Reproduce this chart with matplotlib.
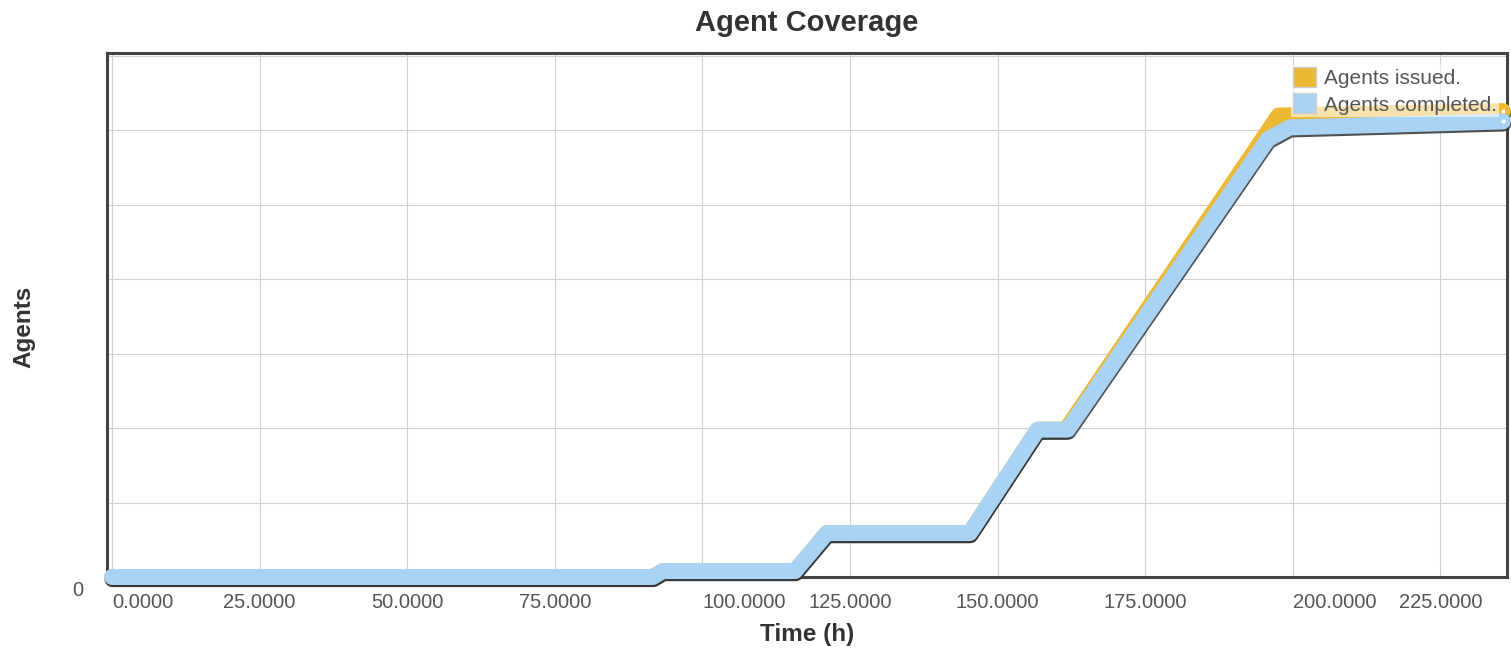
import numpy as np
import matplotlib
matplotlib.use('Agg')
import matplotlib.pyplot as plt
import matplotlib.patheffects as pe
import matplotlib.transforms as mtrans
from matplotlib.patches import Patch

plt.rcParams['font.family'] = ['Liberation Sans', 'DejaVu Sans']

# time (h) and agent counts
t_issued = [0, 91.6, 93.3, 115.7, 121.1, 145.3, 156.8, 161.6, 197.6, 235.6]
n_issued = [0, 0, 4, 4, 29.5, 29.5, 99, 99, 310, 313]
t_completed = [0, 91.6, 93.3, 115.7, 121.1, 145.3, 156.8, 161.9, 195.8, 199.5, 235.6]
n_completed = [0, 0, 4, 4, 29.5, 29.5, 99, 99, 294, 302, 306]

series_labels = ['Agents issued.', 'Agents completed.']
series_colors = ['#ecb935', '#a8d3f4']

xticks = np.arange(0, 226, 25)
xtick_labels = ['%.4f' % v for v in xticks]
yticks = np.arange(0, 351, 50)

###################################################
# Figure
###################################################
fig = plt.figure(figsize=(15.11, 6.49), dpi=100)
ax = fig.add_axes([107 / 1511, 1 - 577 / 649, 1400 / 1511, 524 / 649])

ax.set_xlim(-0.85, 236.3)
ax.set_ylim(0, 352)

shadow = [pe.SimpleLineShadow(offset=(0.4, -1.5), shadow_color='#333333', alpha=0.85),
          pe.Normal()]

for t, n, c, z in [(t_issued, n_issued, series_colors[0], 3),
                   (t_completed, n_completed, series_colors[1], 4)]:
    ax.plot(t, n, color=c, lw=11.5, solid_capstyle='round', solid_joinstyle='round',
            clip_on=False, zorder=z, path_effects=shadow)
    ax.plot(t[-1], n[-1], 'o', ms=4.5, mfc='white', mec=c, mew=1.5,
            clip_on=False, zorder=z + 0.5)

# axes styling
ax.set_xticks(xticks)
ax.set_xticklabels(xtick_labels)
ax.set_yticks(yticks)
ax.set_yticklabels(['0'] + [''] * (len(yticks) - 1))
ax.tick_params(axis='x', length=0, pad=11.5, labelsize=14.5, labelcolor='#555555')
ax.tick_params(axis='y', length=0, pad=17, labelsize=14.5, labelcolor='#555555')
ax.grid(True, color='#d0d0d0', lw=0.8)
ax.set_axisbelow(True)

for lbl, v in zip(ax.get_xticklabels(), xticks):
    if v in (0, 100, 200):
        lbl.set_ha('left')

ylbl = ax.get_yticklabels()[0]
ylbl.set_transform(ylbl.get_transform() + mtrans.ScaledTranslation(0, -0.11, fig.dpi_scale_trans))

for s in ax.spines.values():
    s.set_color('#444444')
    s.set_linewidth(2.2)

handles = [Patch(facecolor=c, edgecolor='#d0d0d0', lw=1) for c in series_colors]
leg = ax.legend(handles, series_labels, loc='upper right', bbox_to_anchor=(0.9943, 0.977),
                fontsize=15, handlelength=1.1, handleheight=1.1, handletextpad=0.4,
                labelspacing=0.25, borderpad=0.1, borderaxespad=0, frameon=True,
                fancybox=False, framealpha=0.6, edgecolor='none', facecolor='white')
for tx in leg.get_texts():
    tx.set_color('#555555')

fig.text(807 / 1511, 1 - 31 / 649, 'Agent Coverage', ha='center', va='baseline',
         fontsize=21, fontweight='bold', color='#333333')
fig.text(807 / 1511, 1 - 641 / 649, 'Time (h)', ha='center', va='baseline',
         fontsize=17.5, fontweight='bold', color='#333333')
fig.text(24 / 1511, 1 - 327 / 649, 'Agents', ha='center', va='center', rotation=90,
         fontsize=17.5, fontweight='bold', color='#333333')

fig.savefig('out.png', dpi=100)
